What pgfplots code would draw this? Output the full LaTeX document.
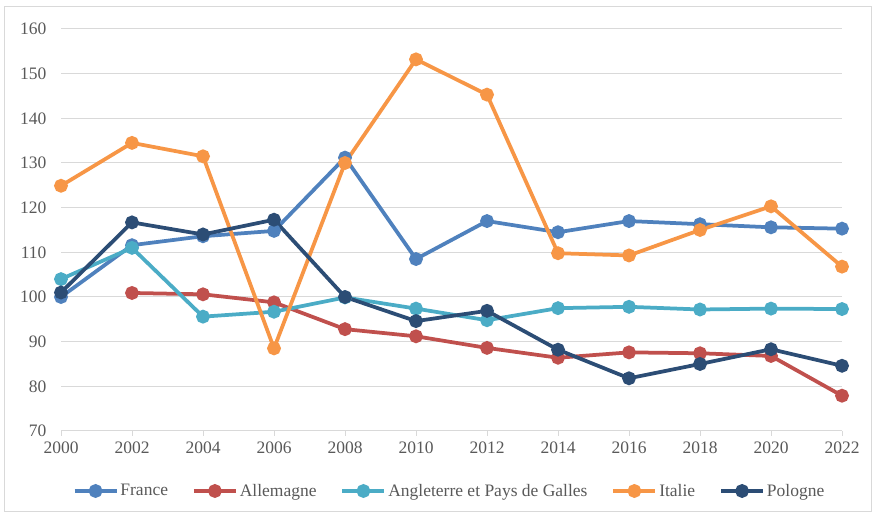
\documentclass[border=0pt]{standalone}
\usepackage{pgfplots}
\pgfplotsset{compat=1.18}
\usepackage{fontspec}
\setmainfont{Liberation Serif}
\definecolor{cFr}{HTML}{4F81BD}
\definecolor{cAl}{HTML}{C0504D}
\definecolor{cAn}{HTML}{4BACC6}
\definecolor{cIt}{HTML}{F79646}
\definecolor{cPo}{HTML}{2C4D75}
\definecolor{gridgray}{HTML}{D9D9D9}
\definecolor{txtgray}{HTML}{595959}
\begin{document}
\begin{tikzpicture}[x=1bp,y=1bp]
\useasboundingbox (0,0) rectangle (875,515);
\draw[gridgray, line width=1bp] (4,3) rectangle (871,508);
\begin{axis}[
  at={(61bp,84bp)}, anchor=south west,
  scale only axis, width=781bp, height=402bp,
  xmin=2000, xmax=2022, ymin=70, ymax=160,
  xtick={2000,2002,...,2022}, ytick={70,80,...,160},
  ymajorgrids, grid style={draw=gridgray, line width=1bp},
  axis x line*=bottom, axis y line*=left,
  y axis line style={draw=none},
  x axis line style={draw=gridgray, line width=1bp, -},
  ytick style={draw=none},
  xtick style={draw=gridgray, line width=1bp},
  tick align=outside, major tick length=5bp,
  /pgf/number format/.cd, 1000 sep={}, assume math mode=true, /pgfplots/.cd,
  ticklabel style={font=\fontsize{17.5bp}{21bp}\selectfont, text=txtgray},
  yticklabel style={xshift=-6bp},
  xticklabel style={yshift=-2bp},
  every axis plot/.append style={line width=3.75bp, mark=*, mark size=5bp, mark options={solid}},
  legend style={at={(axis description cs:0.5,0)}, yshift=-60bp, xshift=-2bp, anchor=center, draw=none,
    font=\fontsize{17.5bp}{21bp}\selectfont, text=txtgray,
    /tikz/every odd column/.append style={inner xsep=1bp},
    /tikz/every even column/.append style={column sep=22bp, inner xsep=1bp}},
  legend columns=5, legend cell align=left,
  legend image code/.code={\draw[mark repeat=2,mark phase=2,#1] plot coordinates {(0bp,0bp)(21bp,0bp)(42bp,0bp)};},
]
\addplot[color=cFr] coordinates {(2000,100)(2002,111.6)(2004,113.6)(2006,114.8)(2008,131.2)(2010,108.5)(2012,117)(2014,114.5)(2016,117)(2018,116.3)(2020,115.6)(2022,115.3)};
\addlegendentry{France}
\addplot[color=cAl] coordinates {(2002,100.9)(2004,100.6)(2006,98.8)(2008,92.8)(2010,91.2)(2012,88.6)(2014,86.4)(2016,87.6)(2018,87.4)(2020,86.8)(2022,77.9)};
\addlegendentry{Allemagne}
\addplot[color=cAn] coordinates {(2000,104)(2002,111)(2004,95.6)(2006,96.7)(2008,99.9)(2010,97.4)(2012,94.8)(2014,97.5)(2016,97.8)(2018,97.2)(2020,97.4)(2022,97.3)};
\addlegendentry{Angleterre et Pays de Galles}
\addplot[color=cIt] coordinates {(2000,124.9)(2002,134.5)(2004,131.5)(2006,88.5)(2008,130)(2010,153.2)(2012,145.3)(2014,109.8)(2016,109.3)(2018,115)(2020,120.3)(2022,106.8)};
\addlegendentry{Italie}
\addplot[color=cPo] coordinates {(2000,101)(2002,116.7)(2004,114)(2006,117.3)(2008,100)(2010,94.6)(2012,96.9)(2014,88.2)(2016,81.8)(2018,85)(2020,88.3)(2022,84.6)};
\addlegendentry{Pologne}
\end{axis}
\end{tikzpicture}
\end{document}
